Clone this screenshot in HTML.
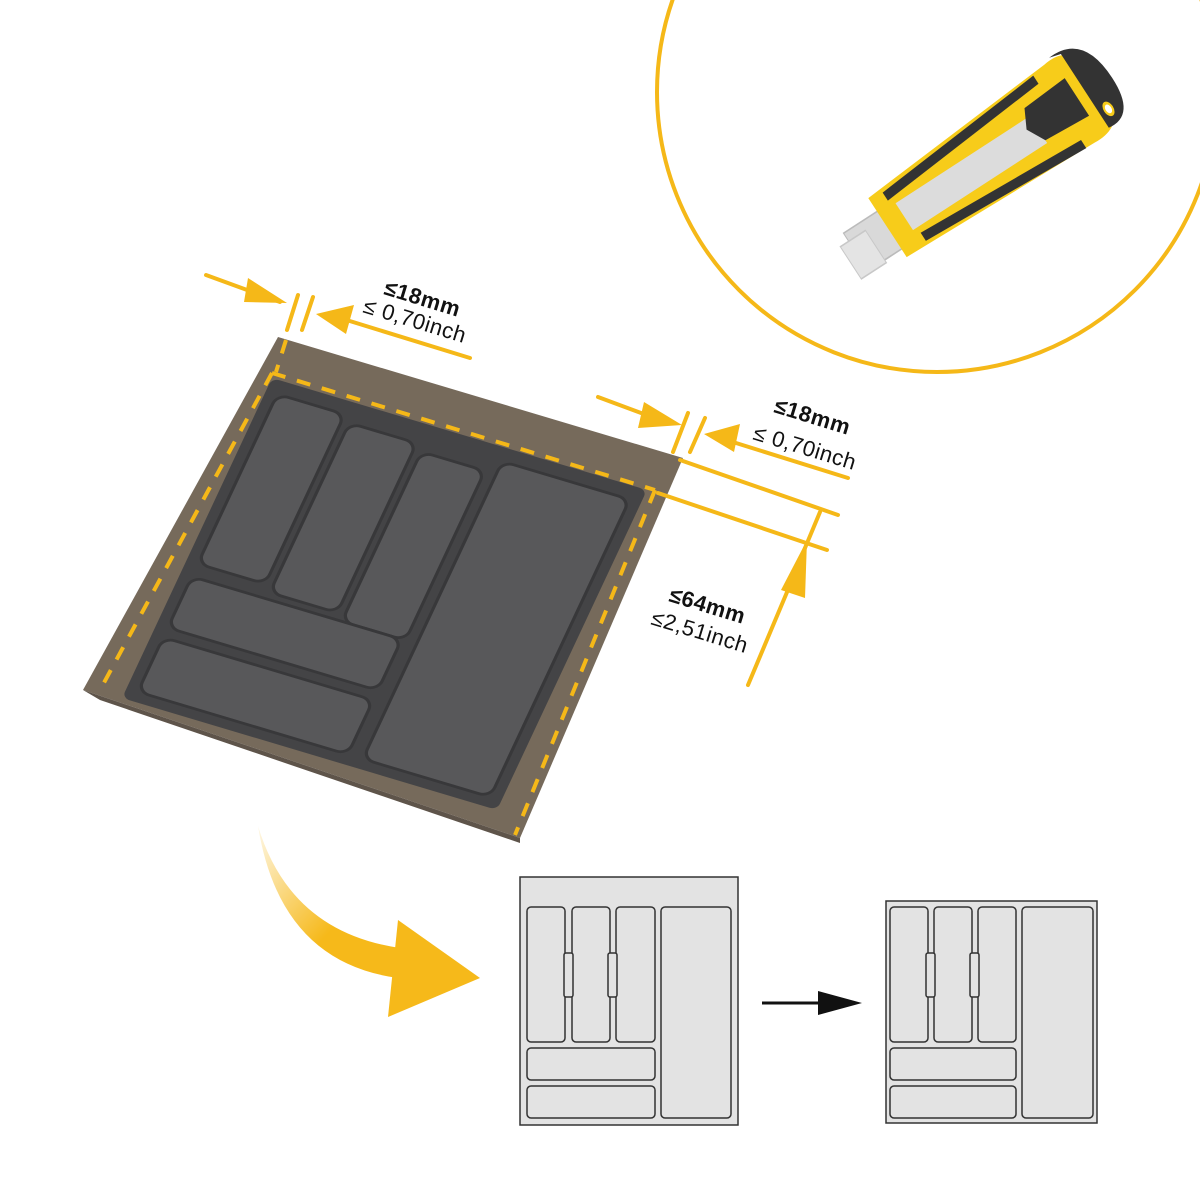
<!DOCTYPE html>
<html><head><meta charset="utf-8"><style>
html,body{margin:0;padding:0;background:#fff;width:1200px;height:1200px;overflow:hidden}
text{font-family:"Liberation Sans",sans-serif}
</style></head><body>
<svg width="1200" height="1200" viewBox="0 0 1200 1200" xmlns="http://www.w3.org/2000/svg">
<defs>
<linearGradient id="sw" x1="0" y1="0" x2="1" y2="1"><stop offset="0" stop-color="#f6b91a" stop-opacity="0.1"/><stop offset="0.6" stop-color="#f6b91a"/></linearGradient>
</defs>
<!-- circle -->
<circle cx="937" cy="92" r="280" fill="none" stroke="#f5b818" stroke-width="4"/>
<!-- knife -->
<g transform="translate(978,165) rotate(-33) scale(1,1.6)">
  <rect x="-150" y="-10" width="70" height="28" fill="#d9d9d9" stroke="#bbb"/>
  <rect x="-160" y="-4" width="30" height="24" fill="#e4e4e4" stroke="#c8c8c8"/>
  <path d="M-110,-20 L110,-30 Q150,-34 150,0 Q150,30 110,28 L-110,24 Z" fill="#f7cc1a"/>
  <path d="M-95,-18 L95,-28 L95,-22 L-95,-12 Z" fill="#333"/>
  <path d="M-85,16 L100,22 L100,28 L-85,22 Z" fill="#333"/>
  <rect x="-90" y="-8" width="160" height="20" fill="#dcdcdc"/>
  <path d="M70,-14 L120,-16 L120,12 L70,10 L60,-2 Z" fill="#333"/>
  <path d="M118,-32 Q160,-34 160,0 Q160,28 130,25 L130,-30 Z" fill="#333"/>
  <circle cx="140" cy="15" r="4" fill="#fff" stroke="#f7cc1a" stroke-width="2"/>
</g>
<!-- tray brown -->
<polygon points="278,337 683,458 520,838 83,690" fill="#766a5b"/>
<polygon points="83,690 520,838 520,843 100,700" fill="#5e544a"/>
<!-- dark tray -->
<g transform="matrix(3.75,1.12,-1.5,3.2,272,378)">
  <rect x="0" y="0" width="100" height="100" rx="2" fill="#444446"/>
  <g fill="#58585a" stroke="#38383a" stroke-width="0.8">
    <rect x="63" y="4" width="34" height="93" rx="3"/>
    <rect x="3" y="4" width="18" height="53" rx="3"/>
    <rect x="23" y="6" width="18" height="53" rx="3"/>
    <rect x="43" y="8" width="17" height="53" rx="3"/>
    <rect x="3" y="61" width="56" height="16" rx="3"/>
    <rect x="3" y="80" width="56" height="17" rx="3"/>
  </g>
</g>
<!-- dashed -->
<g stroke="#f5b818" stroke-width="4" stroke-dasharray="14,12" fill="none">
  <path d="M272,373 L655,490"/>
  <path d="M272,373 L100,690"/>
  <path d="M655,490 L515,835"/>
  <path d="M286,340 L276,372"/>
</g>
<!-- dimension lines -->
<g stroke="#f5b818" stroke-width="4" fill="none" stroke-linecap="round">
  <line x1="206" y1="275" x2="280" y2="302"/>
  <line x1="470" y1="358" x2="340" y2="318"/>
  <line x1="298" y1="295" x2="287" y2="330"/>
  <line x1="313" y1="297" x2="302" y2="330"/>
  <line x1="598" y1="397" x2="660" y2="420"/>
  <line x1="848" y1="478" x2="720" y2="438"/>
  <line x1="688" y1="413" x2="673" y2="452"/>
  <line x1="705" y1="418" x2="690" y2="452"/>
  <line x1="680" y1="460" x2="838" y2="515"/>
  <line x1="658" y1="493" x2="827" y2="550"/>
  <line x1="820" y1="512" x2="800" y2="560"/>
  <line x1="790" y1="585" x2="748" y2="685"/>
</g>
<g fill="#f5b818">
  <polygon points="287,303 248,278 244,302"/>
  <polygon points="316,314 354,305 346,334"/>
  <polygon points="682,425 644,402 638,428"/>
  <polygon points="704,434 740,424 734,452"/>
  <polygon points="807,540 781,590 805,598"/>
</g>
<!-- labels -->
<g font-size="22" fill="#111">
  <text transform="translate(383,294) rotate(17)" font-weight="bold" letter-spacing="0.5">≤18mm</text>
  <text transform="translate(362,312) rotate(17)" letter-spacing="0.5">≤ 0,70inch</text>
  <text transform="translate(773,412) rotate(17)" font-weight="bold" letter-spacing="0.5">≤18mm</text>
  <text transform="translate(752,439) rotate(17)" letter-spacing="0.5">≤ 0,70inch</text>
  <text transform="translate(668,601) rotate(17)" font-weight="bold" letter-spacing="0.5">≤64mm</text>
  <text transform="translate(650,624) rotate(17)" letter-spacing="0.5">≤2,51inch</text>
</g>
<!-- curved arrow -->
<path d="M258,826 Q290,932 400,948 L398,978 Q280,962 258,826 Z" fill="url(#sw)"/>
<polygon points="398,920 480,978 388,1017" fill="#f6b91a"/>
<!-- diagrams -->
<g stroke="#333" stroke-width="1.5" fill="#e3e3e3">
  <rect x="520" y="877" width="218" height="248"/>
  <rect x="527" y="907" width="38" height="135" rx="4"/>
  <rect x="572" y="907" width="38" height="135" rx="4"/>
  <rect x="616" y="907" width="39" height="135" rx="4"/>
  <rect x="661" y="907" width="70" height="211" rx="4"/>
  <rect x="527" y="1048" width="128" height="32" rx="4"/>
  <rect x="527" y="1086" width="128" height="32" rx="4"/>
  <rect x="564" y="953" width="9" height="44" rx="2"/>
  <rect x="608" y="953" width="9" height="44" rx="2"/>
  <rect x="886" y="901" width="211" height="222"/>
  <rect x="890" y="907" width="38" height="135" rx="4"/>
  <rect x="934" y="907" width="38" height="135" rx="4"/>
  <rect x="978" y="907" width="38" height="135" rx="4"/>
  <rect x="1022" y="907" width="71" height="211" rx="4"/>
  <rect x="890" y="1048" width="126" height="32" rx="4"/>
  <rect x="890" y="1086" width="126" height="32" rx="4"/>
  <rect x="926" y="953" width="9" height="44" rx="2"/>
  <rect x="970" y="953" width="9" height="44" rx="2"/>
</g>
<line x1="762" y1="1003" x2="825" y2="1003" stroke="#111" stroke-width="3"/>
<polygon points="818,991 862,1003 818,1015" fill="#111"/>
</svg>
</body></html>
